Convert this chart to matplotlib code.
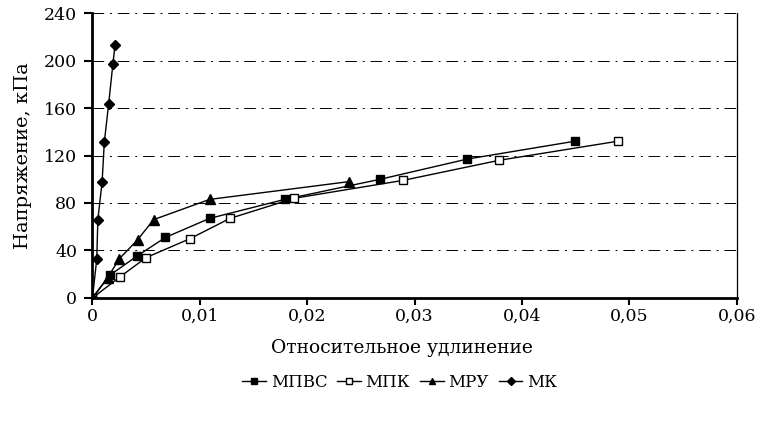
import numpy as np
import matplotlib.pyplot as plt

# Values
x_mpvs = [0, 0.0016, 0.0041, 0.0068, 0.0109, 0.0179, 0.0268, 0.0349, 0.0449]
y_mpvs = [0, 19, 35, 51, 67, 83, 100, 117, 132]

x_mpk = [0, 0.0026, 0.0050, 0.0091, 0.0128, 0.0188, 0.0289, 0.0379, 0.0489]
y_mpk = [0, 18, 34, 50, 67, 84, 99, 116, 132]

x_mru = [0, 0.0014, 0.0025, 0.0042, 0.0057, 0.0109, 0.0239]
y_mru = [0, 17, 33, 49, 66, 83, 98]

x_mk = [0, 0.0004, 0.0005, 0.0009, 0.0011, 0.0015, 0.0019, 0.0021]
y_mk = [0, 33, 66, 98, 131, 163, 197, 213]

x_ticks = [0, 0.01, 0.02, 0.03, 0.04, 0.05, 0.06]
x_tick_labels = ['0', '0,01', '0,02', '0,03', '0,04', '0,05', '0,06']
y_ticks = [0, 40, 80, 120, 160, 200, 240]

plt.rcParams['font.family'] = ['DejaVu Serif', 'Liberation Serif']

fig = plt.figure(figsize=(7.58, 4.22), dpi=100)
ax = fig.add_axes([0.122, 0.294, 0.850, 0.675])

ax.plot(x_mpvs, y_mpvs, 'k-', marker='s', markersize=5.5, linewidth=1,
        markerfacecolor='black', label='МПВС')
ax.plot(x_mpk, y_mpk, 'k-', marker='s', markersize=5.5, linewidth=1,
        markerfacecolor='white', label='МПК')
ax.plot(x_mru, y_mru, 'k-', marker='^', markersize=6.5, linewidth=1,
        markerfacecolor='black', label='МРУ')
ax.plot(x_mk, y_mk, 'k-', marker='D', markersize=5, linewidth=1,
        markerfacecolor='black', label='МК')

ax.set_xlim(0, 0.06)
ax.set_ylim(0, 240)
ax.set_xticks(x_ticks)
ax.set_xticklabels(x_tick_labels)
ax.set_yticks(y_ticks)

# dash-dot horizontal grid, the top line stands in for the missing top spine
for yv in y_ticks[1:]:
    ax.axhline(yv, color='black', linewidth=0.7, linestyle=(0, (12, 6, 2, 6)), zorder=0)

ax.spines['top'].set_visible(False)
ax.spines['left'].set_linewidth(2)
ax.spines['bottom'].set_linewidth(2)
ax.spines['right'].set_linewidth(0.9)
ax.tick_params(axis='x', direction='out', length=5, width=1.5, labelsize=12.5, pad=2)
ax.tick_params(axis='y', direction='out', length=6, width=1.5, labelsize=12.5, pad=5)

ax.set_xlabel('Относительное удлинение', fontsize=13.5)
ax.xaxis.set_label_coords(0.48, -0.145)
ax.set_ylabel('Напряжение, кПа', fontsize=14, labelpad=9)

ax.legend(loc='upper center', bbox_to_anchor=(0.477, -0.215), ncol=4, frameon=False,
          fontsize=12, handlelength=1.4, handletextpad=0.3, columnspacing=0.6,
          markerscale=0.75)

fig.savefig('out.png', dpi=100)
